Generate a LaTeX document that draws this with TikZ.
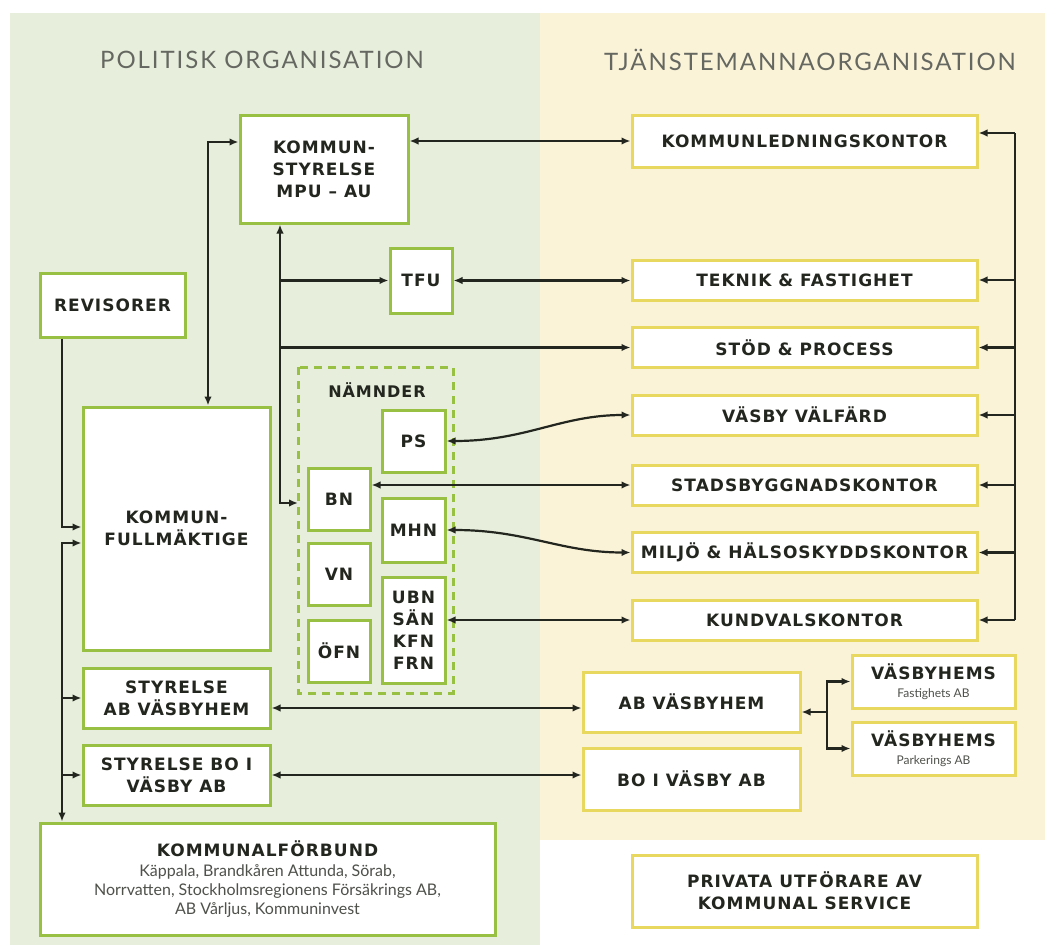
\documentclass[tikz,border=0pt]{standalone}
\usepackage{fontspec}
\setmainfont{DejaVu Sans}
\newfontfamily\boxfont[LetterSpace=6]{DejaVu Sans}
\newfontfamily\titlefont[LetterSpace=8]{Lato}
\newfontfamily\smallfont{Lato}
\newcommand\subtxt[2][16]{{\smallfont\mdseries\fontsize{#1}{19}\selectfont\color{ink!80}#2}}
\usetikzlibrary{arrows.meta}
\definecolor{polbg}{RGB}{231,239,220}
\definecolor{tjbg}{RGB}{251,243,216}
\definecolor{polline}{RGB}{152,192,66}
\definecolor{tjline}{RGB}{232,216,96}
\definecolor{ink}{RGB}{35,38,30}
\tikzset{
  box/.style={draw, fill=white, line width=3pt, align=center, inner sep=2pt,
    font=\boxfont\bfseries\fontsize{17}{22}\selectfont, text=ink},
  pbox/.style={box, draw=polline},
  tbox/.style={box, draw=tjline},
  conn/.style={draw=ink, line width=2.2pt, -{Latex[length=9pt,width=7.5pt]}},
  dconn/.style={draw=ink, line width=2.2pt, {Latex[length=9pt,width=7.5pt]}-{Latex[length=9pt,width=7.5pt]}},
  bus/.style={draw=ink, line width=2.2pt},
  heading/.style={font=\titlefont\fontsize{24}{28}\selectfont, text=ink!70}
}

\begin{document}
\begin{tikzpicture}[x=1pt,y=-1pt]
		%%%%% BACKGROUND %%%%%
		\useasboundingbox (0,0) rectangle (1060,950);
		\fill[white] (0,0) rectangle (1060,950);
		\fill[polbg] (10,13) rectangle (540,945);
		\fill[tjbg] (540,13) rectangle (1045,840);
		
		\node[heading] (polhead) at (262,60) {POLITISK ORGANISATION};
		\node[heading] (tjhead) at (810,60) {TJÄNSTEMANNAORGANISATION};
		
		%%%%% POLITISK %%%%%
		\node[pbox, minimum width=168pt, minimum height=108pt] (ks) at (324,169) {KOMMUN-\\STYRELSE\\MPU – AU};
		\node[pbox, minimum width=62pt, minimum height=65pt] (tfu) at (421,280.5) {TFU};
		\node[pbox, minimum width=145pt, minimum height=64pt] (rev) at (112.5,305) {REVISORER};
		\node[pbox, minimum width=187pt, minimum height=243pt] (kf) at (176.5,528.5) {KOMMUN-\\FULLMÄKTIGE};
		\node[pbox, minimum width=187pt, minimum height=60pt] (styab) at (176.5,698) {STYRELSE\\AB VÄSBYHEM};
		\node[pbox, minimum width=187pt, minimum height=60pt] (stybo) at (176.5,775) {STYRELSE BO I\\VÄSBY AB};
		\node[pbox, minimum width=455pt, minimum height=112pt] (kforb) at (267.5,879)
			{KOMMUNALFÖRBUND\\[-2pt]
			\subtxt{Käppala, Brandkåren Attunda, Sörab,}\\[-3pt]
			\subtxt{Norrvatten, Stockholmsregionens Försäkrings AB,}\\[-3pt]
			\subtxt{AB Vårljus, Kommuninvest}};
		
		% nämnder
		\draw[polline, line width=3pt, dash pattern=on 8pt off 6pt] (298,367) rectangle (453,693);
		\node[font=\boxfont\bfseries\fontsize{16}{18}\selectfont, text=ink] (namnder) at (377,390) {NÄMNDER};
		\coordinate (nleft) at (298,503);
		\node[pbox, minimum width=63pt, minimum height=62pt] (ps) at (413.5,441) {PS};
		\node[pbox, minimum width=62pt, minimum height=62pt] (bn) at (339,499) {BN};
		\node[pbox, minimum width=63pt, minimum height=64pt] (mhn) at (413.5,530) {MHN};
		\node[pbox, minimum width=62pt, minimum height=62pt] (vn) at (339,574) {VN};
		\node[pbox, minimum width=63pt, minimum height=106pt] (ubn) at (413.5,630) {UBN\\SÄN\\KFN\\FRN};
		\node[pbox, minimum width=62pt, minimum height=62pt] (ofn) at (339,651) {ÖFN};
		
		%%%%% TJÄNSTEMANNA %%%%%
		\node[tbox, minimum width=345pt, minimum height=52pt] (klk) at (804.5,141) {KOMMUNLEDNINGSKONTOR};
		\node[tbox, minimum width=345pt, minimum height=40pt] (teknik) at (804.5,280) {TEKNIK \& FASTIGHET};
		\node[tbox, minimum width=345pt, minimum height=40pt] (stod) at (804.5,347.5) {STÖD \& PROCESS};
		\node[tbox, minimum width=345pt, minimum height=40pt] (valfard) at (804.5,415) {VÄSBY VÄLFÄRD};
		\node[tbox, minimum width=345pt, minimum height=40pt] (stads) at (804.5,485) {STADSBYGGNADSKONTOR};
		\node[tbox, minimum width=345pt, minimum height=40pt] (miljo) at (804.5,552.5) {MILJÖ \& HÄLSOSKYDDSKONTOR};
		\node[tbox, minimum width=345pt, minimum height=40pt] (kundval) at (804.5,620) {KUNDVALSKONTOR};
		\node[tbox, minimum width=217pt, minimum height=60pt] (abv) at (691.5,702) {AB VÄSBYHEM};
		\node[tbox, minimum width=217pt, minimum height=62pt] (boi) at (691.5,779) {BO I VÄSBY AB};
		\node[tbox, minimum width=163pt, minimum height=53pt] (vfast) at (933.5,681.5)
			{VÄSBYHEMS\\[-4pt] \subtxt[12]{Fastighets AB}};
		\node[tbox, minimum width=163pt, minimum height=53pt] (vpark) at (933.5,748.5)
			{VÄSBYHEMS\\[-4pt] \subtxt[12]{Parkerings AB}};
		\node[tbox, minimum width=345pt, minimum height=72pt] (privata) at (804.5,891) {PRIVATA UTFÖRARE AV\\KOMMUNAL SERVICE};
		
		%%%%% CONNECTORS %%%%%
		\draw[dconn] ([xshift=31.5pt]kf.north) |- ([yshift=27pt]ks.west);
		\draw[dconn] (ks.east |- klk) -- (klk.west);
		
		\coordinate (ksbus) at (280,503);
		\draw[dconn] ([xshift=-44pt]ks.south) -- (ksbus) -- (nleft);
		\draw[conn] (ksbus |- tfu) -- (tfu.west);
		\draw[conn] (ksbus |- stod) -- (stod.west);
		\draw[dconn] (tfu.east) -- (tfu.east -| teknik.west);
		
		\draw[dconn] (ps.east) .. controls +(80,0) and +(-70,0) .. (valfard.west);
		\draw[dconn] (bn.east |- stads) -- (stads.west);
		\draw[dconn] (mhn.east) .. controls +(80,0) and +(-70,0) .. (miljo.west);
		\draw[dconn] (ubn.east |- kundval) -- (kundval.west);
		
		% right bus
		\coordinate (rbus) at (1015,133);
		\draw[bus] (rbus) -- (rbus |- kundval);
		\draw[conn] (rbus) -- (rbus -| klk.east);
		\foreach \b in {teknik,stod,valfard,stads,miljo,kundval}
			\draw[conn] (rbus |- \b) -- (\b.east);
		
		% left bus
		\draw[conn] ([xshift=-50.5pt]rev.south) |- ([yshift=1.5pt]kf.west);
		\coordinate (lbus) at (62,543);
		\draw[dconn] (kf.west |- lbus) -- (lbus) -- (lbus |- kforb.north);
		\draw[conn] (lbus |- styab) -- (styab.west);
		\draw[conn] (lbus |- stybo) -- (stybo.west);
		
		\draw[dconn] ([yshift=-10pt]styab.east) -- ([yshift=-10pt]styab.east -| abv.west);
		\draw[dconn] (stybo.east) -- (stybo.east -| boi.west);
		
		\coordinate (vsplit) at (827,712);
		\draw[conn] (vsplit) -- (vsplit -| abv.east);
		\draw[conn] (vsplit) |- (vfast.west);
		\draw[conn] (vsplit) |- (vpark.west);
		
		%%%%% END %%%%%
\end{tikzpicture}
\end{document}
